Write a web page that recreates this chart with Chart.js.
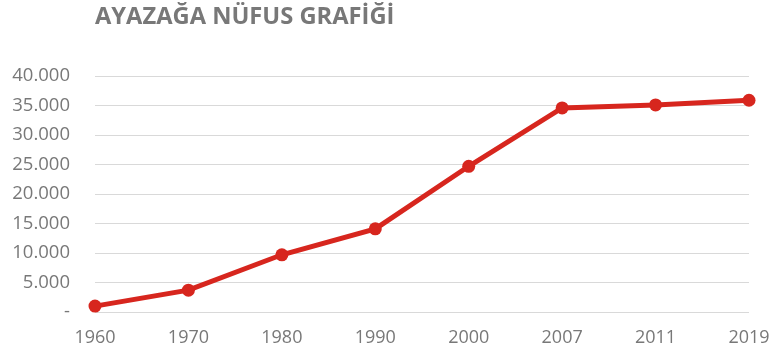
<!DOCTYPE html>
<html lang="tr">
<head>
<meta charset="utf-8">
<script src="https://cdn.jsdelivr.net/npm/chart.js"></script>
<style>
  html, body { margin: 0; padding: 0; background: #fff; }
  #wrap { width: 773px; height: 355px; position: relative; }
</style>
</head>
<body>
<div id="wrap"><canvas id="nufus"></canvas></div>
<script>
// Ayazağa nüfusu, yıllara göre
const years = ['1960', '1970', '1980', '1990', '2000', '2007', '2011', '2019'];
const population = [1000, 3700, 9700, 14100, 24700, 34600, 35100, 35900];
const yTicks = [0, 5000, 10000, 15000, 20000, 25000, 30000, 35000, 40000];

const gray = '#787878';
const red = '#d7261e';

// binlik ayırıcı nokta, sıfır yerine tire
function formatTick(v) {
    if (v === 0) return '-';
    return String(v).replace(/\B(?=(\d{3})+(?!\d))/g, '.');
}

new Chart(document.getElementById('nufus'), {
    type: 'line',
    data: {
        labels: years,
        datasets: [{
            data: population,
            borderColor: red,
            backgroundColor: red,
            borderWidth: 5,
            pointRadius: 6.5,
            pointHoverRadius: 6.5,
            pointBackgroundColor: red,
            pointBorderWidth: 0,
            tension: 0,
            clip: false
        }]
    },
    options: {
        responsive: true,
        maintainAspectRatio: false,
        animation: false,
        layout: { padding: { top: 0, right: 24, bottom: 0, left: 0 } },
        plugins: {
            legend: { display: false },
            tooltip: { enabled: false },
            title: {
                display: true,
                text: 'AYAZAĞA NÜFUS GRAFİĞİ',
                align: 'start',
                fullSize: false,
                color: gray,
                font: { family: 'Open Sans', size: 23.7, weight: 'bold', lineHeight: 1.2 },
                padding: { top: 3, bottom: 44.6 }
            }
        },
        scales: {
            x: {
                offset: false,
                grid: { display: false, drawTicks: false },
                border: { display: false },
                ticks: {
                    color: gray,
                    font: { family: 'Open Sans', size: 18 },
                    padding: 15,
                    maxRotation: 0,
                    autoSkip: false
                },
                afterFit: scale => {
                    scale.height = 43;
                    scale.paddingLeft = 0;
                    scale.paddingRight = 0;
                }
            },
            y: {
                min: 0,
                max: 40000,
                afterBuildTicks: scale => {
                    scale.ticks = yTicks.map(v => ({ value: v }));
                },
                grid: { color: '#d9d9d9', lineWidth: 1, drawTicks: false },
                border: { display: false },
                ticks: {
                    color: gray,
                    font: { family: 'Open Sans', size: 18.5 },
                    padding: 25,
                    callback: formatTick
                },
                afterFit: scale => {
                    scale.width = 95;
                    scale.paddingTop = 0;
                    scale.paddingBottom = 0;
                }
            }
        }
    }
});
</script>
</body>
</html>
